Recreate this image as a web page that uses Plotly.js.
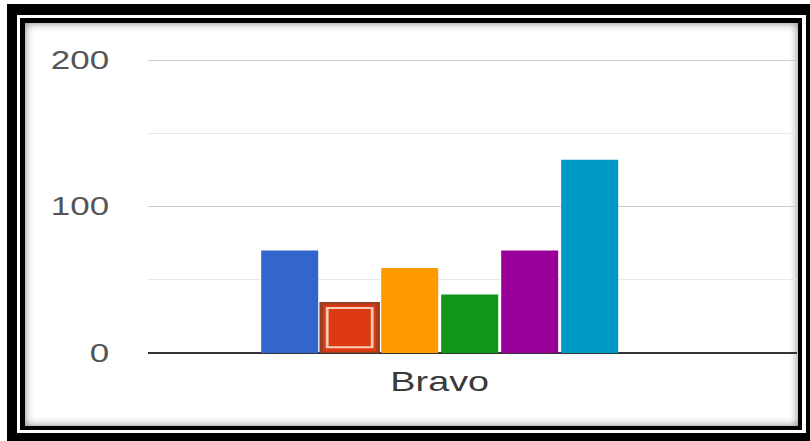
<!DOCTYPE html>
<html>
<head>
<meta charset="utf-8">
<script src="https://cdn.plot.ly/plotly-3.0.1.min.js"></script>
<style>
  html, body { margin: 0; padding: 0; background: #fff; width: 810px; height: 441px; overflow: hidden; }
  .box { position: absolute; }
  #outer { left: 7px; top: 4px; width: 803px; height: 437px; background: #000; }
  #gap { left: 17px; top: 15px; width: 789px; height: 418px; background: #fff; }
  #inner { left: 20px; top: 18px; width: 782px; height: 412px; background: #000; }
  #content { left: 25px; top: 23px; width: 773px; height: 403px; background: #fff; box-shadow: inset 0 0 8px rgba(0,0,0,0.5); }
  #chart { position: absolute; left: 0; top: 0; width: 579px; height: 441px; transform: scaleX(1.399); transform-origin: 0 0; z-index: 5; }
</style>
</head>
<body>
<div class="box" id="outer"></div>
<div class="box" id="gap"></div>
<div class="box" id="inner"></div>
<div class="box" id="content"></div>
<div id="chart"></div>
<script>
// ---- data ----
const categories = ["Bravo"];
const seriesNames = ["Series 1", "Series 2", "Series 3", "Series 4", "Series 5", "Series 6"];
const seriesValues = [70, 34, 58, 40, 70, 132];
const seriesColors = ["#3366cc", "#dc3912", "#ff9900", "#109618", "#990099", "#0099c6"];
const yTickValues = [0, 100, 200];
const yTickLabels = ["0", "100", "200"];
const highlightedIndex = 1;

// ---- layout geometry (styling only) ----
const pxPerUnit = 464 * 1.399;         // page pixels per category unit
const slot = 60 / pxPerUnit;           // slot per bar
const barW = 57 / pxPerUnit;           // bar width
const nS = seriesValues.length;

const traces = seriesValues.map((v, i) => ({
  type: 'bar',
  name: seriesNames[i],
  x: categories,
  y: [v],
  width: barW,
  offset: (i - nS / 2) * slot + (slot - barW) / 2,
  marker: {
    color: seriesColors[i],
    line: i === highlightedIndex ? { color: '#9a3f22', width: 2.5 } : { width: 0 }
  },
  hoverinfo: 'skip',
  showlegend: false
}));

// inner selection ring on the highlighted bar (derived from its value)
const insetX = 6 / pxPerUnit;
const hv = seriesValues[highlightedIndex];
traces.push({
  type: 'bar',
  x: categories,
  y: [hv - 7.3],
  base: [4],
  width: barW - 2 * insetX,
  offset: (highlightedIndex - nS / 2) * slot + (slot - barW) / 2 + insetX,
  marker: { color: 'rgba(0,0,0,0)', line: { color: '#f7cdb5', width: 2 } },
  hoverinfo: 'skip',
  showlegend: false
});

const layout = {
  width: 579,
  height: 441,
  margin: { l: 106, r: 9, t: 53, b: 88 },
  paper_bgcolor: 'rgba(0,0,0,0)',
  plot_bgcolor: 'rgba(0,0,0,0)',
  barmode: 'overlay',
  showlegend: false,
  xaxis: {
    type: 'category',
    range: [-0.4489, 0.5511],
    showgrid: false,
    zeroline: false,
    showline: false,
    ticks: '',
    ticklabelstandoff: 10,
    tickfont: { family: 'Liberation Sans, Arial, sans-serif', size: 27, color: '#3a3a3a' },
    fixedrange: true
  },
  yaxis: {
    range: [0, 205],
    tickvals: yTickValues,
    ticktext: yTickLabels,
    showgrid: true,
    gridcolor: '#cccccc',
    gridwidth: 1,
    minor: { tickvals: [50, 150], showgrid: true, gridcolor: '#e9e9e9', gridwidth: 1, ticks: '' },
    zeroline: true,
    zerolinecolor: '#333333',
    zerolinewidth: 1.5,
    showline: false,
    ticks: '',
    ticklabelstandoff: 27,
    tickfont: { family: 'Liberation Sans, Arial, sans-serif', size: 25, color: '#555' },
    fixedrange: true
  }
};

Plotly.newPlot('chart', traces, layout, { displayModeBar: false, staticPlot: true });
</script>
</body>
</html>
